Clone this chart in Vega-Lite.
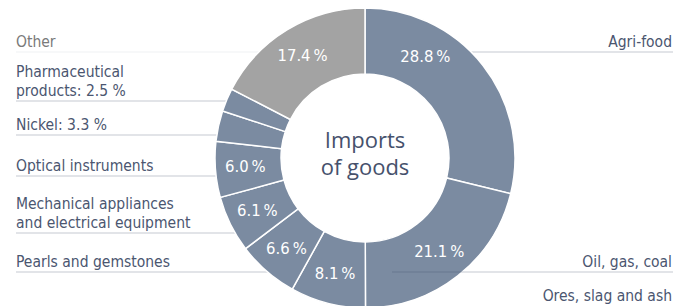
{
  "$schema": "https://vega.github.io/schema/vega-lite/v6.json",
  "width": 616,
  "height": 300,
  "autosize": {"type": "none"},
  "padding": {"left": 57, "top": 8, "right": 0, "bottom": 0},
  "background": "white",
  "config": {
    "view": {"stroke": null},
    "text": {"font": "DejaVu Sans Condensed, sans-serif", "fontSize": 15.5}
  },
  "data": {
    "values": [
      {"category": "Agri-food", "share": 28.8, "idx": 1, "side": "right", "slot": 0, "pos": "above", "label": "Agri-food"},
      {"category": "Oil, gas, coal", "share": 21.1, "idx": 2, "side": "right", "slot": 5, "pos": "above", "label": "Oil, gas, coal"},
      {"category": "Ores, slag and ash", "share": 8.1, "idx": 3, "side": "right", "slot": 5, "pos": "below", "label": "Ores, slag and ash"},
      {"category": "Pearls and gemstones", "share": 6.6, "idx": 4, "side": "left", "slot": 5, "pos": "above", "label": "Pearls and gemstones"},
      {"category": "Mechanical appliances and electrical equipment", "share": 6.1, "idx": 5, "side": "left", "slot": 4, "pos": "above", "label": "Mechanical appliances\nand electrical equipment"},
      {"category": "Optical instruments", "share": 6.0, "idx": 6, "side": "left", "slot": 3, "pos": "above", "label": "Optical instruments"},
      {"category": "Nickel", "share": 3.3, "idx": 7, "side": "left", "slot": 2, "pos": "above", "label": "Nickel: 3.3 %"},
      {"category": "Pharmaceutical products", "share": 2.5, "idx": 8, "side": "left", "slot": 1, "pos": "above", "label": "Pharmaceutical\nproducts: 2.5 %"},
      {"category": "Other", "share": 17.4, "idx": 9, "side": "left", "slot": 0, "pos": "above", "label": "Other"}
    ]
  },
  "transform": [
    {"calculate": "format(datum.share, '.1f') + '\u2009%'", "as": "pct"},
    {"calculate": "split(datum.label, '\\n').length > 1", "as": "multi"}
  ],
  "layer": [
    {
      "transform": [{"filter": "datum.side === 'left'"}],
      "mark": {"type": "rule", "color": "#3b4a66", "strokeWidth": 1.2},
      "encoding": {
        "x": {"datum": 16, "type": "quantitative", "scale": {"domain": [0, 673], "range": [-57, 616], "nice": false, "zero": false}, "axis": null},
        "x2": {"datum": 280},
        "y": {"field": "slot", "type": "quantitative", "scale": {"domain": [0, 1, 2, 3, 4, 5], "range": [44, 93, 127, 168, 225, 264], "nice": false, "zero": false}, "axis": null},
        "opacity": {"condition": {"test": "datum.category === 'Other'", "value": 0.08}, "value": 0.3}
      }
    },
    {
      "transform": [{"filter": "datum.category === 'Agri-food'"}],
      "mark": {"type": "rule", "color": "#3b4a66", "strokeWidth": 1.2, "opacity": 0.3},
      "encoding": {
        "x": {"datum": 440, "type": "quantitative"},
        "x2": {"datum": 673},
        "y": {"field": "slot", "type": "quantitative"}
      }
    },
    {
      "mark": {"type": "arc", "outerRadius": 150, "innerRadius": 84, "stroke": "white", "strokeWidth": 1.5},
      "encoding": {
        "theta": {"field": "share", "type": "quantitative", "stack": true},
        "order": {"field": "idx", "type": "quantitative"},
        "color": {"condition": {"test": "datum.category === 'Other'", "value": "#a3a3a3"}, "value": "#7b8ba1"}
      }
    },
    {
      "transform": [{"filter": "datum.category === 'Oil, gas, coal'"}],
      "mark": {"type": "rule", "color": "#3b4a66", "strokeWidth": 1.2, "opacity": 0.3},
      "encoding": {
        "x": {"datum": 392, "type": "quantitative"},
        "x2": {"datum": 673},
        "y": {"field": "slot", "type": "quantitative"}
      }
    },
    {
      "mark": {"type": "text", "radius": 120, "color": "white", "align": "center", "baseline": "middle", "fontSize": 16.5},
      "encoding": {
        "theta": {"field": "share", "type": "quantitative", "stack": true},
        "order": {"field": "idx", "type": "quantitative"},
        "text": {"condition": {"test": "datum.share >= 5 && datum.category !== 'Agri-food'", "field": "pct"}, "value": ""}
      }
    },
    {
      "mark": {"type": "text", "radius": 120, "color": "white", "align": "center", "baseline": "middle", "fontSize": 16.5, "dx": -34, "dy": -27},
      "encoding": {
        "theta": {"field": "share", "type": "quantitative", "stack": true},
        "order": {"field": "idx", "type": "quantitative"},
        "text": {"condition": {"test": "datum.category === 'Agri-food'", "field": "pct"}, "value": ""}
      }
    },
    {
      "transform": [{"filter": "datum.side === 'left' && !datum.multi"}],
      "mark": {"type": "text", "align": "left", "baseline": "alphabetic", "dy": -5},
      "encoding": {
        "x": {"datum": 16, "type": "quantitative"},
        "y": {"field": "slot", "type": "quantitative"},
        "text": {"field": "label"},
        "color": {"condition": {"test": "datum.category === 'Other'", "value": "#7a7a7a"}, "value": "#4b5670"}
      }
    },
    {
      "transform": [{"filter": "datum.side === 'left' && datum.multi"}],
      "mark": {"type": "text", "align": "left", "baseline": "alphabetic", "dy": -24.5, "lineBreak": "\n", "lineHeight": 19.5, "color": "#4b5670"},
      "encoding": {
        "x": {"datum": 16, "type": "quantitative"},
        "y": {"field": "slot", "type": "quantitative"},
        "text": {"field": "label"}
      }
    },
    {
      "transform": [{"filter": "datum.side === 'right' && datum.pos === 'above'"}],
      "mark": {"type": "text", "align": "right", "baseline": "alphabetic", "dy": -5, "color": "#4b5670"},
      "encoding": {
        "x": {"datum": 672, "type": "quantitative"},
        "y": {"field": "slot", "type": "quantitative"},
        "text": {"field": "label"}
      }
    },
    {
      "transform": [{"filter": "datum.pos === 'below'"}],
      "mark": {"type": "text", "align": "right", "baseline": "alphabetic", "dy": 29, "color": "#4b5670"},
      "encoding": {
        "x": {"datum": 672, "type": "quantitative"},
        "y": {"field": "slot", "type": "quantitative"},
        "text": {"field": "label"}
      }
    },
    {
      "data": {"values": [{"title": "Imports\nof goods"}]},
      "mark": {"type": "text", "font": "Open Sans", "fontSize": 22, "lineBreak": "\n", "lineHeight": 27, "align": "center", "baseline": "alphabetic", "dy": -10, "color": "#46516c"},
      "encoding": {
        "text": {"field": "title"}
      }
    }
  ]
}
